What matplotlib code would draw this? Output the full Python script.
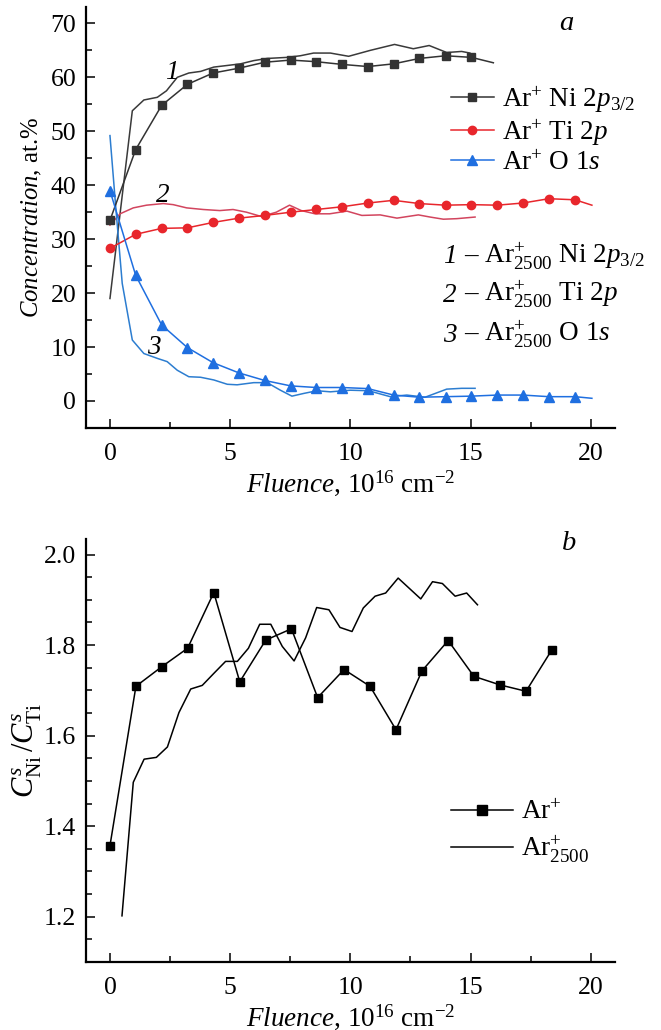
import numpy as np
import matplotlib
matplotlib.use("Agg")
import matplotlib.pyplot as plt
from matplotlib.ticker import MultipleLocator, FormatStrFormatter
from matplotlib.lines import Line2D

plt.rcParams['font.family'] = ['Liberation Serif', 'DejaVu Serif']
plt.rcParams['mathtext.fontset'] = 'custom'
plt.rcParams['mathtext.rm'] = 'Liberation Serif'
plt.rcParams['mathtext.it'] = 'Liberation Serif:italic'
plt.rcParams['mathtext.bf'] = 'Liberation Serif:bold'
FS = 19.5      # legend / annotation text
TICK_FS = 18.5

# ---- panel a: Ar+ (markers) ----
fl_ar = [0, 1.07, 2.15, 3.22, 4.29, 5.37, 6.44, 7.52, 8.58, 9.65, 10.73,
         11.80, 12.87, 13.96, 15.04, 16.11, 17.18, 18.26, 19.35, 20.05]
ni_ar = [33.5, 46.6, 54.8, 58.7, 60.8, 61.7, 62.8, 63.2, 62.9, 62.4, 62.0,
         62.5, 63.5, 64.0, 63.7]
ni_tail_x = [15.95]  # the Ni Ar+ line runs on a little past its last point
ni_tail = [62.7]
ti_ar = [28.3, 30.9, 32.0, 32.1, 33.1, 33.9, 34.4, 35.0, 35.5, 36.0, 36.7,
         37.2, 36.6, 36.3, 36.4, 36.3, 36.7, 37.5, 37.3, 36.3]
o_ar = [39.0, 23.3, 14.1, 9.9, 7.1, 5.2, 3.8, 2.8, 2.5, 2.5, 2.3,
        1.1, 0.7, 0.8, 0.9, 1.1, 1.1, 0.8, 0.8, 0.5]

# ---- panel a: Ar2500+ (lines) ----
ni_cl_x = [0, 0.93, 1.41, 1.97, 2.35, 2.80, 3.28, 3.77, 4.32, 4.88, 5.43, 5.98,
           6.54, 7.37, 7.92, 8.47, 9.17, 9.93, 10.83, 11.84, 12.62, 13.28,
           14.01, 14.63, 14.98, 15.2]
ni_cl = [19.0, 53.8, 55.8, 56.3, 57.5, 60.0, 60.8, 61.1, 61.9, 62.2, 62.5, 63.1,
         63.5, 63.7, 64.0, 64.5, 64.5, 63.9, 65.0, 66.1, 65.3, 65.9,
         64.6, 64.8, 64.5, 63.5]
ti_cl_x = [0, 0.42, 0.97, 1.52, 2.22, 2.63, 3.19, 3.88, 4.57, 5.12, 5.68, 6.30,
           6.92, 7.47, 7.96, 8.53, 9.14, 9.86, 10.48, 11.24, 11.94, 12.83,
           13.32, 13.87, 14.43, 15.19]
ti_cl = [32.6, 34.7, 35.8, 36.3, 36.6, 36.4, 35.8, 35.5, 35.3, 35.5, 35.0, 34.2,
         35.0, 36.3, 35.3, 34.7, 34.7, 35.2, 34.4, 34.5, 33.9, 34.5,
         34.1, 33.7, 33.8, 34.1]
o_cl_x = [0, 0.24, 0.51, 0.93, 1.41, 1.97, 2.38, 2.80, 3.28, 3.77, 4.32, 4.88,
          5.29, 5.98, 6.54, 7.09, 7.57, 8.06, 8.61, 9.17, 10.0, 10.76, 11.66,
          12.35, 13.11, 14.01, 14.63, 15.19]
o_cl = [49.2, 36.0, 21.8, 11.3, 8.8, 7.9, 7.3, 5.7, 4.5, 4.4, 3.9, 3.1,
        3.0, 3.4, 3.4, 2.0, 0.9, 1.4, 1.9, 1.7, 2.0, 1.9, 0.8,
        1.1, 0.7, 2.2, 2.35, 2.35]

# ---- panel b: C_Ni / C_Ti ----
fl_b = [0, 1.08, 2.15, 3.23, 4.32, 5.40, 6.48, 7.55, 8.64, 9.74, 10.82,
        11.90, 12.98, 14.07, 15.14, 16.23, 17.31, 18.39]
ratio_ar = [1.357, 1.709, 1.752, 1.793, 1.916, 1.719, 1.811, 1.836, 1.684,
            1.746, 1.709, 1.613, 1.743, 1.810, 1.731, 1.712, 1.698, 1.790]
fl_b_cl = [0.5, 0.97, 1.42, 1.93, 2.39, 2.87, 3.36, 3.84, 4.33, 4.81, 5.30,
           5.76, 6.23, 6.69, 7.17, 7.66, 8.14, 8.60, 9.11, 9.57, 10.07, 10.54,
           11.03, 11.47, 11.99, 12.93, 13.42, 13.83, 14.36, 14.84, 15.29]
ratio_cl = [1.202, 1.497, 1.548, 1.552, 1.575, 1.651, 1.703, 1.711, 1.738,
            1.764, 1.764, 1.793, 1.846, 1.846, 1.797, 1.765, 1.816, 1.883,
            1.878, 1.839, 1.830, 1.882, 1.908, 1.915, 1.948, 1.902, 1.940,
            1.936, 1.908, 1.915, 1.889]

curve_nums = ['1', '2', '3']
curve_labels = [r'– Ar$^{+}_{2500}$ Ni 2$p_{3/2}$',
                r'– Ar$^{+}_{2500}$ Ti 2$p$',
                r'– Ar$^{+}_{2500}$ O 1$s$']
leg_a = [r'Ar$^{+}$ Ni 2$p_{3/2}$', r'Ar$^{+}$ Ti 2$p$', r'Ar$^{+}$ O 1$s$']
leg_b = [r'Ar$^{+}$', r'Ar$^{+}_{2500}$']

fig = plt.figure(figsize=(6.61, 10.30), dpi=100)
ax1 = fig.add_axes([0.130, 0.5845, 0.800, 0.4085])
ax2 = fig.add_axes([0.130, 0.066, 0.800, 0.411])

black = '#333333'
red = '#e8262c'
blue = '#1f6fe0'

# panel a: cluster-beam curves
ax1.plot(ni_cl_x, ni_cl, color='#3a3a3a', lw=1.1)
ax1.plot(ti_cl_x, ti_cl, color='#d2455e', lw=1.1)
ax1.plot(o_cl_x, o_cl, color='#2c7dd0', lw=1.1)

# panel a: Ar+ curves
ax1.plot(fl_ar[:len(ni_ar)] + ni_tail_x, ni_ar + ni_tail, color=black, lw=1.1)
ax1.plot(fl_ar[:len(ni_ar)], ni_ar, 's', color=black, ms=5.5)
ax1.plot(fl_ar, ti_ar, '-', color=red, lw=1.1)
ax1.plot(fl_ar[:-1], ti_ar[:-1], 'o', color=red, ms=6)
ax1.plot(fl_ar, o_ar, '-', color=blue, lw=1.1)
ax1.plot(fl_ar[:-1], o_ar[:-1], '^', color=blue, ms=6.5)

h1 = [Line2D([], [], color=black, marker='s', ms=5.5, lw=1.1),
      Line2D([], [], color=red, marker='o', ms=6, lw=1.1),
      Line2D([], [], color=blue, marker='^', ms=6.5, lw=1.1)]
ax1.legend(h1, leg_a, loc='upper left', bbox_to_anchor=(0.69, 0.816), frameon=False,
           fontsize=FS, handlelength=1.6, handletextpad=0.3, labelspacing=0.1,
           borderpad=0, borderaxespad=0)

# curve numbers on the lines
ax1.text(2.59, 60.9, curve_nums[0], fontsize=FS, style='italic', ha='center', va='center')
ax1.text(2.18, 38.1, curve_nums[1], fontsize=FS, style='italic', ha='center', va='center')
ax1.text(1.83, 10.0, curve_nums[2], fontsize=FS, style='italic', ha='center', va='center')
for num, lab, yb in zip(curve_nums, curve_labels, [25.5, 18.4, 11.0]):
    ax1.text(13.85, yb, num, fontsize=FS, style='italic', va='baseline')
    ax1.text(14.72, yb, lab, fontsize=FS, va='baseline')
ax1.text(19.0, 69.9, 'a', fontsize=FS + 1, style='italic', ha='center', va='center')

ax1.set_xlim(-1, 21)
ax1.set_ylim(-5, 73)
ax1.yaxis.set_major_locator(MultipleLocator(10))
ax1.yaxis.set_minor_locator(MultipleLocator(5))
ax1.set_ylabel(r'$\mathit{Concentration}$, at.%', fontsize=17.8, labelpad=5)

# panel b
ax2.plot(fl_b, ratio_ar, '-s', color='black', ms=6, lw=1.1)
ax2.plot(fl_b_cl, ratio_cl, '-', color='black', lw=1.1)
h2 = [Line2D([], [], color='black', marker='s', ms=7, lw=1.1),
      Line2D([], [], color='black', lw=1.1)]
ax2.legend(h2, leg_b, loc='upper left', bbox_to_anchor=(0.69, 0.382), frameon=False,
           fontsize=FS, handlelength=2.3, handletextpad=0.3, labelspacing=0.3,
           borderpad=0, borderaxespad=0)
ax2.text(19.1, 2.024, 'b', fontsize=FS + 1, style='italic', ha='center', va='center')
ax2.set_xlim(-1, 21)
ax2.set_ylim(1.1, 2.035)
ax2.yaxis.set_major_locator(MultipleLocator(0.2))
ax2.yaxis.set_minor_locator(MultipleLocator(0.05))
ax2.yaxis.set_major_formatter(FormatStrFormatter('%.1f'))
ax2.set_ylabel(r'$C^{s}_{\mathrm{Ni}}\,/C^{s}_{\mathrm{Ti}}$', fontsize=22, labelpad=0)

for ax in (ax1, ax2):
    ax.xaxis.set_major_locator(MultipleLocator(5))
    ax.xaxis.set_minor_locator(MultipleLocator(2.5))
    ax.spines['top'].set_visible(False)
    ax.spines['right'].set_visible(False)
    for s in ('left', 'bottom'):
        ax.spines[s].set_linewidth(1.6)
    ax.tick_params(which='both', direction='in', width=1.1, labelsize=TICK_FS)
    ax.tick_params(which='major', length=6.5)
    ax.tick_params(which='minor', length=4.5)
    ax.tick_params(axis='y', which='major', pad=7)
    ax.tick_params(axis='x', which='major', pad=11)
    ax.set_xlabel(r'$\mathit{Fluence}$, 10$^{16}$ cm$^{-2}$', fontsize=FS, labelpad=2)

fig.savefig('out.png', dpi=100)
